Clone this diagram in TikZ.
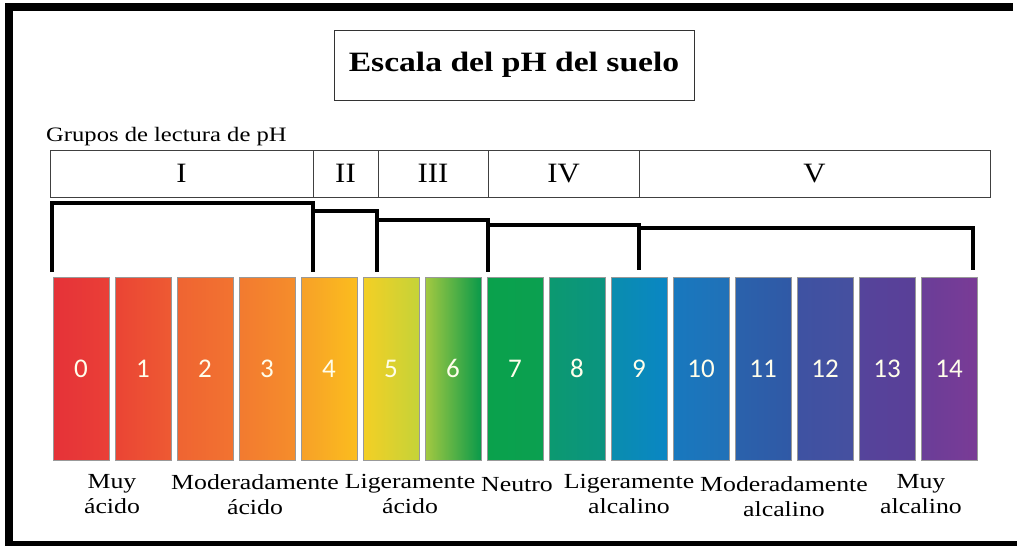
\documentclass[tikz,border=0pt]{standalone}
\usepackage{fontspec}
\setmainfont{Liberation Serif}
\newfontfamily\lblfont[FakeStretch=1.2]{Liberation Serif}
\newfontfamily\grpfont[FakeStretch=1.1]{Liberation Serif}
\newfontfamily\numfont{Carlito}
\definecolor{L0}{HTML}{E53238}\definecolor{R0}{HTML}{EA3F37}
\definecolor{L1}{HTML}{EA4434}\definecolor{R1}{HTML}{EE5A33}
\definecolor{L2}{HTML}{EF6432}\definecolor{R2}{HTML}{F27330}
\definecolor{L3}{HTML}{F27A30}\definecolor{R3}{HTML}{F58D2B}
\definecolor{L4}{HTML}{F7A028}\definecolor{R4}{HTML}{FBBD1E}
\definecolor{L5}{HTML}{F4CF25}\definecolor{R5}{HTML}{C5D338}
\definecolor{L6}{HTML}{A4C941}\definecolor{R6}{HTML}{0A9A4A}
\definecolor{L7}{HTML}{0AA14C}\definecolor{R7}{HTML}{0BA050}
\definecolor{L8}{HTML}{0C9970}\definecolor{R8}{HTML}{0B9480}
\definecolor{L9}{HTML}{0A8DAE}\definecolor{R9}{HTML}{0A86C4}
\definecolor{L10}{HTML}{1878BE}\definecolor{R10}{HTML}{2171B8}
\definecolor{L11}{HTML}{2A62AC}\definecolor{R11}{HTML}{3059A6}
\definecolor{L12}{HTML}{3E52A2}\definecolor{R12}{HTML}{4650A0}
\definecolor{L13}{HTML}{55449B}\definecolor{R13}{HTML}{5A3F98}
\definecolor{L14}{HTML}{6A3E98}\definecolor{R14}{HTML}{7A3B96}
\begin{document}
\begin{tikzpicture}[x=1pt,y=-1pt,
  cell/.style={draw=black!75, line width=1pt, minimum height=47pt, inner sep=0pt,
    font=\fontsize{28}{30}\grpfont},
  bar/.style={draw=black!40, line width=0.8pt, minimum width=56pt, minimum height=183pt,
    inner sep=0pt, text=white!92!yellow, font=\fontsize{27}{29}\numfont},
  brk/.style={line width=4.5pt, black},
  lbl/.style={align=center, inner sep=0pt, font=\fontsize{21.5}{25}\lblfont}]
\useasboundingbox (0,0) rectangle (1017,546);
% frame
\draw[line width=8pt] (1013,7) -- (9,7) -- (9,546);
\draw[line width=5pt] (5,543.5) -- (1017,543.5);
% title
\node[draw=black!80, line width=1pt, minimum width=360pt, minimum height=70pt, inner sep=0pt]
  (title) at (514,65) {\fontsize{28}{30}\lblfont\bfseries Escala del pH del suelo};
\node[anchor=base west, inner sep=0pt] (grp) at (46,141)
  {\fontsize{20.5}{24}\lblfont Grupos de lectura de pH};
% group cells
\node[cell, minimum width=263pt] (gI)   at (181.5,173.5) {I};
\node[cell, minimum width=65pt]  (gII)  at (345.5,173.5) {II};
\node[cell, minimum width=110pt] (gIII) at (433,173.5) {III};
\node[cell, minimum width=151pt] (gIV)  at (563.5,173.5) {IV};
\node[cell, minimum width=351pt] (gV)   at (814.5,173.5) {V};
% bars
\foreach \i in {0,...,14} {
  \node[bar, left color=L\i, right color=R\i] (b\i) at ({53+62*\i+28},368.5) {\i};
}
% brackets
\coordinate (k0) at (52,272);
\coordinate (k1) at (313,272);
\coordinate (k2) at (377,272);
\coordinate (k3) at (488,272);
\coordinate (k4) at (639,270);
\coordinate (k5) at (973,270);
\draw[brk] (k0) -- (52,203) -- (313,203) -- (k1);
\draw[brk] (313,211) -- (377,211) -- (k2);
\draw[brk] (377,220) -- (488,220) -- (k3);
\draw[brk] (488,225) -- (639,225) -- (k4);
\draw[brk] (639,228) -- (973,228) -- (k5);
% labels
\node[lbl, anchor=north] (t1) at (112,474) {Muy\\ácido};
\node[lbl, anchor=north] (t2) at (255,474) {Moderadamente\\ácido};
\node[lbl, anchor=north] (t3) at (410,474) {Ligeramente\\ácido};
\node[lbl, anchor=north] (t4) at (517,474) {Neutro\strut};
\node[lbl, anchor=north] (t5) at (629,474) {Ligeramente\\alcalino};
\node[lbl, anchor=north] (t6) at (784,476) {Moderadamente\\alcalino};
\node[lbl, anchor=north] (t7) at (921,474) {Muy\\alcalino};
\end{tikzpicture}
\end{document}
